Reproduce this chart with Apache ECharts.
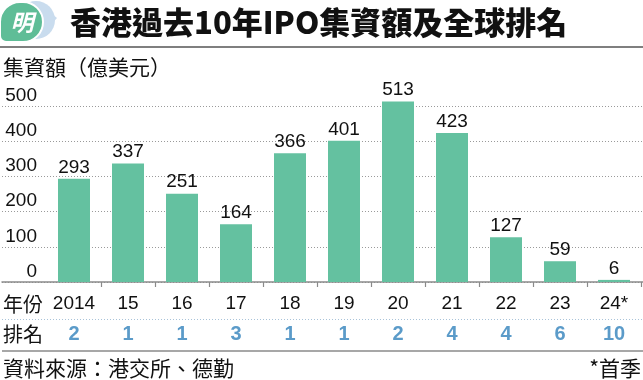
<!DOCTYPE html>
<html>
<head>
<meta charset="utf-8">
<script src="https://cdn.jsdelivr.net/npm/echarts@6.0.0/dist/echarts.min.js"></script>
<style>
html,body{margin:0;padding:0;background:#fff;}
#chart{width:643px;height:380px;}
</style>
</head>
<body>
<div id="chart"></div>
<script>
const categories = ['2014','15','16','17','18','19','20','21','22','23','24*'];
const values = [293,337,251,164,366,401,513,423,127,59,6];
const ranks = ['2','1','1','3','1','1','2','4','4','6','10'];
const yMin = 0, yMax = 500, yStep = 100;

const titleText = '香港過去10年IPO集資額及全球排名';
const unitText = '集資額（億美元）';
const yearHead = '年份';
const rankHead = '排名';
const sourceText = '資料來源：港交所、德勤';
const noteText = '*首季';

const F = "'Liberation Sans','Noto Sans CJK TC',sans-serif";
const FC = "'Noto Sans CJK TC','Liberation Sans',sans-serif";
const GREEN = '#64c1a0';
const BLUE = '#5b9bc9';

const chart = echarts.init(document.getElementById('chart'), null, {renderer:'canvas'});
const option = {
  animation: false,
  backgroundColor: '#fff',
  grid: [
    {left: 2, right: 0, top: 106, bottom: 98},
    {left: 47, right: 2, top: 106, bottom: 98}
  ],
  xAxis: [
    {gridIndex: 0, type: 'value', min: 0, max: 1,
     axisLine: {show: true, onZero: false, lineStyle: {color: '#8a8a8a', width: 1.5}},
     axisTick: {show: false}, axisLabel: {show: false}, splitLine: {show: false}},
    {gridIndex: 1, type: 'category', data: categories,
     axisLine: {show: false},
     axisTick: {show: true, length: 5, interval: function (i) { return i > 0; }, lineStyle: {color: '#8a8a8a', width: 1.2}},
     axisLabel: {margin: 12, fontSize: 19, color: '#111', fontFamily: F, interval: 0}},
    {gridIndex: 1, type: 'category', data: ranks, position: 'bottom', offset: 30,
     axisLine: {show: false}, axisTick: {show: false},
     axisLabel: {margin: 12, fontSize: 20, fontWeight: 'bold', color: BLUE, fontFamily: F, interval: 0}}
  ],
  yAxis: [
    {gridIndex: 0, type: 'value', min: yMin, max: yMax, interval: yStep,
     axisLine: {show: false}, axisTick: {show: false},
     splitLine: {show: true, lineStyle: {color: '#9a9a9a', width: 1, type: [1, 2]}},
     axisLabel: {inside: true, align: 'right', verticalAlign: 'bottom', margin: 35,
                 fontSize: 19, color: '#111', fontFamily: F, padding: [0, 0, 1, 0]}},
    {gridIndex: 1, type: 'value', min: yMin, max: yMax, interval: yStep, show: false}
  ],
  series: [{
    type: 'bar', xAxisIndex: 1, yAxisIndex: 1, data: values,
    barWidth: 32, clip: false, z: 3,
    itemStyle: {color: GREEN},
    label: {show: true, position: 'top', distance: 2, fontSize: 19, color: '#111', fontFamily: F}
  }],
  graphic: [
    // logo
    {type: 'circle', shape: {cx: 36, cy: 20, r: 19}, style: {fill: '#c9dcee'}, z: 10},
    {type: 'polygon', shape: {points: [[46, 9], [57, 18], [46, 30]]}, style: {fill: '#c9dcee'}, z: 10},
    {type: 'rect', shape: {x: 0, y: 2, width: 43, height: 40, r: [20, 20, 20, 6]}, style: {fill: '#5fbd97', stroke: '#fff', lineWidth: 2}, z: 11},
    {type: 'text', x: 22, y: 22, style: {text: '明', fill: '#fff', font: 'bold italic 23px ' + FC, align: 'center', verticalAlign: 'middle'}, z: 12},
    // title
    {type: 'text', x: 70, y: 22, style: {text: titleText, fill: '#111', font: '900 31px ' + FC, verticalAlign: 'middle'}, z: 12},
    {type: 'line', shape: {x1: 0, y1: 47, x2: 643, y2: 47}, style: {stroke: '#555', lineWidth: 1.5}, z: 12},
    {type: 'text', x: 3, y: 67, style: {text: unitText, fill: '#111', font: '21px ' + FC, verticalAlign: 'middle'}, z: 12},
    {type: 'text', x: 3, y: 304, style: {text: yearHead, fill: '#111', font: '20px ' + FC, verticalAlign: 'middle'}, z: 12},
    {type: 'line', shape: {x1: 2, y1: 319.5, x2: 643, y2: 319.5}, style: {stroke: '#a9c3d9', lineWidth: 1, lineDash: [1, 2]}, z: 12},
    {type: 'text', x: 3, y: 334, style: {text: rankHead, fill: '#111', font: '20px ' + FC, verticalAlign: 'middle'}, z: 12},
    {type: 'line', shape: {x1: 2, y1: 351, x2: 643, y2: 351}, style: {stroke: '#8a8a8a', lineWidth: 1.5}, z: 12},
    {type: 'text', x: 3, y: 368, style: {text: sourceText, fill: '#111', font: '21px ' + FC, verticalAlign: 'middle'}, z: 12},
    {type: 'text', x: 641, y: 368, style: {text: noteText, fill: '#111', font: '21px ' + FC, align: 'right', verticalAlign: 'middle'}, z: 12}
  ]
};
chart.setOption(option);
</script>
</body>
</html>
